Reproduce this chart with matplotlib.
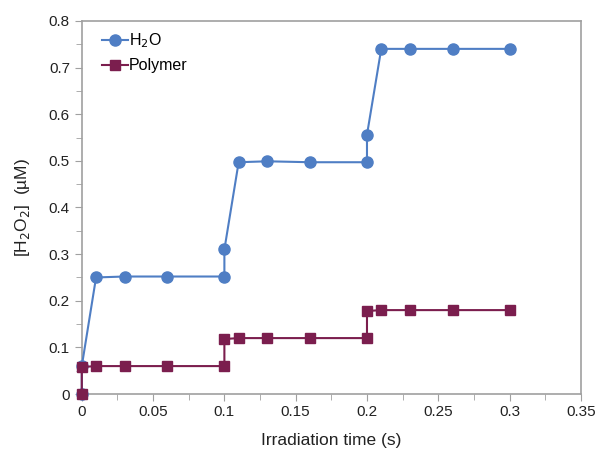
import matplotlib
matplotlib.use('Agg')
import matplotlib.pyplot as plt
from matplotlib.ticker import MultipleLocator

plt.rcParams['font.family'] = ['Liberation Sans', 'DejaVu Sans']

# data
t_h2o = [0, 0, 0.01, 0.03, 0.06, 0.1, 0.1, 0.11, 0.13, 0.16, 0.2, 0.2, 0.21, 0.23, 0.26, 0.3]
c_h2o = [0, 0.06, 0.25, 0.252, 0.252, 0.252, 0.31, 0.497, 0.499, 0.497, 0.497, 0.556, 0.74, 0.74, 0.74, 0.74]

t_poly = [0, 0, 0.01, 0.03, 0.06, 0.1, 0.1, 0.11, 0.13, 0.16, 0.2, 0.2, 0.21, 0.23, 0.26, 0.3]
c_poly = [0, 0.058, 0.06, 0.06, 0.06, 0.06, 0.118, 0.12, 0.12, 0.12, 0.12, 0.178, 0.18, 0.18, 0.18, 0.18]

x_ticks = [0, 0.05, 0.1, 0.15, 0.2, 0.25, 0.3, 0.35]
x_labels = ['0', '0.05', '0.1', '0.15', '0.2', '0.25', '0.3', '0.35']
y_ticks = [0, 0.1, 0.2, 0.3, 0.4, 0.5, 0.6, 0.7, 0.8]
y_labels = ['0', '0.1', '0.2', '0.3', '0.4', '0.5', '0.6', '0.7', '0.8']

blue = '#4F7EC4'
maroon = '#7B1E4E'

fig = plt.figure(figsize=(5.97, 4.54), dpi=100)
ax = fig.add_axes([0.137, 0.132, 0.836, 0.822])

ax.plot(t_h2o, c_h2o, '-o', color=blue, lw=1.5, ms=8, label='H$_2$O', clip_on=False, zorder=3)
ax.plot(t_poly, c_poly, '-s', color=maroon, lw=1.5, ms=7, label='Polymer', clip_on=False, zorder=4)

ax.set_xlim(0, 0.35)
ax.set_ylim(0, 0.8)
ax.set_xticks(x_ticks)
ax.set_xticklabels(x_labels)
ax.set_yticks(y_ticks)
ax.set_yticklabels(y_labels)
ax.xaxis.set_minor_locator(MultipleLocator(0.025))
ax.yaxis.set_minor_locator(MultipleLocator(0.05))

for s in ax.spines.values():
    s.set_color('#A0A0A0')
    s.set_linewidth(1.2)
ax.tick_params(which='both', direction='out', color='#A0A0A0', labelsize=11, labelcolor='#222222')
ax.tick_params(which='major', length=5)
ax.tick_params(which='minor', length=4)
ax.tick_params(axis='x', pad=3)

ax.set_xlabel('Irradiation time (s)', fontsize=12.5, color='#222222', labelpad=10)
ax.set_ylabel('[H$_2$O$_2$]  (\u00b5M)', fontsize=12.5, color='#222222', labelpad=12)

ax.legend(loc='upper left', frameon=False, fontsize=11.5, handlelength=1.6,
          handletextpad=0.1, borderaxespad=0.4, labelspacing=0.5,
          bbox_to_anchor=(0.015, 1.005))

fig.savefig('out.png', dpi=100)
